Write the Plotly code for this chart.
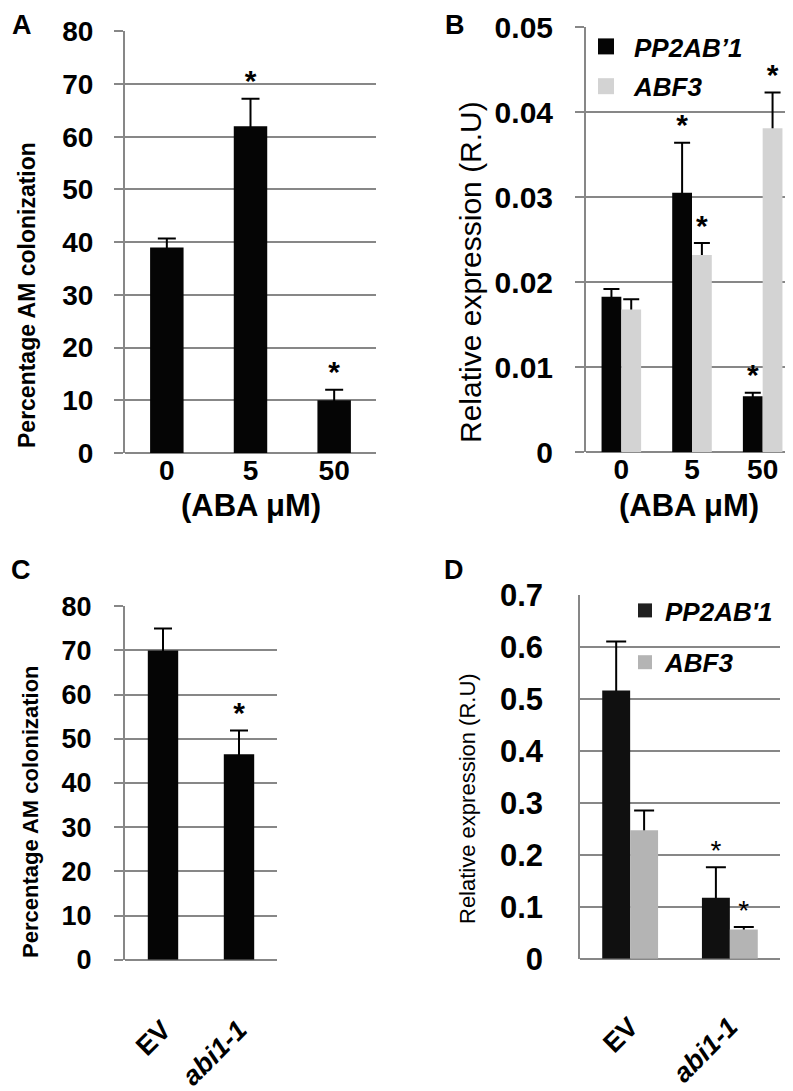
import plotly.graph_objects as go

# ---------------- data ----------------
a_cats = ["0", "5", "50"]
a_vals = [39.0, 62.0, 10.0]
a_err = [1.7, 5.2, 2.0]
a_sig = [False, True, True]

b_cats = ["0", "5", "50"]
b_pp2a = [0.0183, 0.0305, 0.0066]
b_pp2a_err = [0.0009, 0.0059, 0.0004]
b_pp2a_sig = [False, True, True]
b_abf3 = [0.0168, 0.0232, 0.0381]
b_abf3_err = [0.0012, 0.0014, 0.0042]
b_abf3_sig = [False, True, True]

c_cats = ["EV", "<i>abi1-1</i>"]
c_vals = [70.0, 46.5]
c_err = [5.0, 5.4]
c_sig = [False, True]

d_cats = ["EV", "<i>abi1-1</i>"]
d_pp2a = [0.516, 0.117]
d_pp2a_err = [0.094, 0.059]
d_pp2a_sig = [False, True]
d_abf3 = [0.247, 0.056]
d_abf3_err = [0.038, 0.005]
d_abf3_sig = [False, True]

# ---------------- layout helpers ----------------
W, H = 793, 1091
FONT = "Liberation Sans, Arial, Helvetica, sans-serif"
GRID = "#878787"
BLACK = "#050505"


def xd(left, right):
    return [left / W, right / W]


def yd(top, bottom):
    return [1 - bottom / H, 1 - top / H]


fig = go.Figure()


def add_series(xa, ya, vals, errs, sig, color, offset, width, capw, starsize,
               starweight="bold"):
    idx = list(range(len(vals)))
    # error bars first (drawn under the visible bar so only the upper half shows)
    fig.add_trace(go.Bar(
        x=idx, y=vals, xaxis=xa, yaxis=ya, offset=offset, width=width,
        marker=dict(color="rgba(0,0,0,0)", line=dict(width=0)),
        error_y=dict(type="data", array=errs, visible=True, color="black",
                     thickness=2, width=capw),
        showlegend=False, hoverinfo="skip"))
    fig.add_trace(go.Bar(
        x=idx, y=vals, xaxis=xa, yaxis=ya, offset=offset, width=width,
        marker=dict(color=color, line=dict(width=0)),
        showlegend=False))
    sx = [i + offset + width / 2 for i, s in zip(idx, sig) if s]
    sy = [v + e for v, e, s in zip(vals, errs, sig) if s]
    fig.add_trace(go.Scatter(
        x=sx, y=sy, xaxis=xa, yaxis=ya, mode="text", text=["*"] * len(sx),
        textposition="top center",
        textfont=dict(family=FONT, size=starsize, color="black", weight=starweight),
        showlegend=False, hoverinfo="skip"))


# Panel A
add_series("x", "y", a_vals, a_err, a_sig, BLACK, -0.2, 0.4, 9, 30)
# Panel B
add_series("x2", "y2", b_pp2a, b_pp2a_err, b_pp2a_sig, BLACK, -0.28, 0.28, 8, 30)
add_series("x2", "y2", b_abf3, b_abf3_err, b_abf3_sig, "#d3d3d3", 0.0, 0.28, 8, 30)
# Panel C
add_series("x3", "y3", c_vals, c_err, c_sig, BLACK, -0.2, 0.4, 9, 30)
# Panel D
add_series("x4", "y4", d_pp2a, d_pp2a_err, d_pp2a_sig, "#101010", -0.28, 0.28, 10, 28, "normal")
add_series("x4", "y4", d_abf3, d_abf3_err, d_abf3_sig, "#b4b4b4", 0.0, 0.28, 10, 28, "normal")

# legend entries
fig.add_trace(go.Scatter(x=[None], y=[None], xaxis="x2", yaxis="y2", mode="markers",
                         name="PP2AB\u20191", legend="legend", legendgroup="b1",
                         marker=dict(symbol="square", size=16, color=BLACK)))
fig.add_trace(go.Scatter(x=[None], y=[None], xaxis="x2", yaxis="y2", mode="markers",
                         name="ABF3", legend="legend", legendgroup="b2",
                         marker=dict(symbol="square", size=16, color="#d3d3d3")))
fig.add_trace(go.Scatter(x=[None], y=[None], xaxis="x4", yaxis="y4", mode="markers",
                         name="PP2AB'1", legend="legend2", legendgroup="d1",
                         marker=dict(symbol="square", size=14, color="#202020")))
fig.add_trace(go.Scatter(x=[None], y=[None], xaxis="x4", yaxis="y4", mode="markers",
                         name="ABF3", legend="legend2", legendgroup="d2",
                         marker=dict(symbol="square", size=14, color="#b4b4b4")))


def yaxis(domain, anchor, rng, dtick, tickfmt, tsize, ticks=True, lstand=6):
    return dict(
        domain=domain, anchor=anchor, range=rng, dtick=dtick, tick0=0, tickformat=tickfmt,
        showgrid=True, gridcolor=GRID, gridwidth=2,
        showline=True, linecolor=GRID, linewidth=2,
        zeroline=True, zerolinecolor=GRID, zerolinewidth=2,
        ticks="outside" if ticks else "", ticklen=9, tickwidth=2, tickcolor=GRID,
        ticklabelstandoff=lstand, automargin=False,
        tickfont=dict(family=FONT, size=tsize, color="black", weight="bold"),
        fixedrange=True)


def xaxis(domain, cats, anchor, tsize, angle, lstand):
    return dict(
        domain=domain, range=[-0.5, len(cats) - 0.5], tickvals=list(range(len(cats))),
        ticktext=cats, showgrid=False, zeroline=False, showline=False, ticks="",
        ticklen=0, tickangle=angle, ticklabelstandoff=lstand, anchor=anchor,
        automargin=False,
        tickfont=dict(family=FONT, size=tsize, color="black", weight="bold"),
        fixedrange=True)


fig.update_layout(
    width=W, height=H, margin=dict(l=0, r=0, t=0, b=0, autoexpand=False),
    paper_bgcolor="white", plot_bgcolor="white", barmode="overlay",
    font=dict(family=FONT, color="black"),
    xaxis=xaxis(xd(117, 368), a_cats, "y", 28, 0, -2),
    yaxis=yaxis(yd(23.3, 445), "x", [0, 80], 10, "d", 28, lstand=15),
    xaxis2=xaxis(xd(578, 790), b_cats, "y2", 28, 0, -2),
    yaxis2=yaxis(yd(19, 444.3), "x2", [0, 0.05], 0.01, "", 30, lstand=16),
    xaxis3=xaxis(xd(117, 269), c_cats, "y3", 27, -45, 48),
    yaxis3=yaxis(yd(598.3, 951.7), "x3", [0, 80], 10, "d", 27, lstand=17),
    xaxis4=xaxis(xd(572.3, 771.7), d_cats, "y4", 27, -45, 46),
    yaxis4=yaxis(yd(586.7, 950.7), "x4", [0, 0.7], 0.1, "", 31, ticks=False, lstand=29),
    legend=dict(x=570 / W, y=1 - 15 / H, xanchor="left", yanchor="top",
                bgcolor="rgba(0,0,0,0)", itemwidth=46, tracegroupgap=3,
                font=dict(family=FONT, size=26, color="black", weight="bold", style="italic")),
    legend2=dict(x=617 / W, y=1 - 579 / H, xanchor="left", yanchor="top",
                 bgcolor="rgba(0,0,0,0)", itemwidth=30, tracegroupgap=15,
                 font=dict(family=FONT, size=26, color="black", weight="bold", style="italic")),
    showlegend=True,
)

# x-axis titles (panels A and B)
for px in (243, 681):
    fig.add_annotation(text="(ABA \u03bcM)", x=px / W, y=1 - 497 / H, xref="paper",
                       yref="paper", showarrow=False, xanchor="center", yanchor="middle",
                       font=dict(family=FONT, size=31, color="black", weight="bold"))

# y-axis titles
for txt, px, py, size, weight in [
        ("Percentage AM colonization", 19, 287, 23, "bold"),
        ("Relative expression (R.U)", 462, 264, 30, "normal"),
        ("Percentage AM colonization", 22, 804, 22, "bold"),
        ("Relative expression (R.U)", 459, 791, 22, "normal")]:
    fig.add_annotation(text=txt, x=px / W, y=1 - py / H, xref="paper", yref="paper",
                       textangle=-90, showarrow=False, xanchor="center", yanchor="middle",
                       font=dict(family=FONT, size=size, color="black", weight=weight))

# panel letters
for letter, px, py in [("A", 14, 17), ("B", 447, 17), ("C", 13, 562), ("D", 446, 562)]:
    fig.add_annotation(text=letter, x=px / W, y=1 - py / H, xref="paper", yref="paper",
                       showarrow=False, xanchor="center", yanchor="middle",
                       font=dict(family=FONT, size=27, color="black", weight="bold"))

fig.write_html("out.html")
